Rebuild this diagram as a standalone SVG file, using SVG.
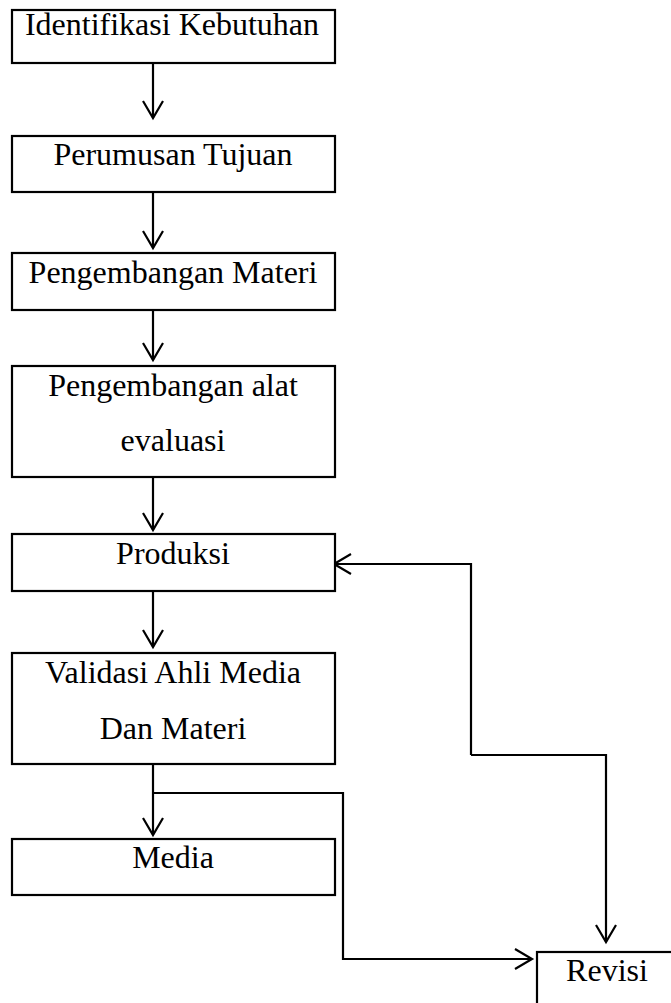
<svg xmlns="http://www.w3.org/2000/svg" width="671" height="1003" viewBox="0 0 671 1003">
<style>
.box{fill:#fff;stroke:#000;stroke-width:2.2}
.t{font-family:"Liberation Serif","Times New Roman",serif;font-size:32px;fill:#000;text-anchor:middle}
.c{fill:none;stroke:#000;stroke-width:2.2}
</style>
<defs>
<marker id="ah" markerUnits="userSpaceOnUse" markerWidth="24" markerHeight="26" viewBox="-20 -13 24 26" refX="0" refY="0" orient="auto">
<path d="M -17 -10 L 0 0 L -17 10" fill="none" stroke="#000" stroke-width="2.2"/>
</marker>
</defs>
<rect width="671" height="1003" fill="#fff"/>
<g id="connectors">
<line class="c" x1="153" y1="64" x2="153" y2="118" marker-end="url(#ah)"/>
<line class="c" x1="153" y1="193" x2="153" y2="248" marker-end="url(#ah)"/>
<line class="c" x1="153" y1="311" x2="153" y2="360" marker-end="url(#ah)"/>
<line class="c" x1="153" y1="478" x2="153" y2="530" marker-end="url(#ah)"/>
<line class="c" x1="153" y1="592" x2="153" y2="647" marker-end="url(#ah)"/>
<line class="c" x1="153" y1="765" x2="153" y2="835" marker-end="url(#ah)"/>
<polyline class="c" points="153,793 343,793 343,959 532,959" marker-end="url(#ah)"/>
<polyline class="c" points="471,755 471,564 334,564" marker-end="url(#ah)"/>
<polyline class="c" points="471,755 606,755 606,942" marker-end="url(#ah)"/>
</g>
<g id="n1"><rect class="box" x="12" y="10" width="323" height="53"/><text class="t" x="172" y="35">Identifikasi Kebutuhan</text></g>
<g id="n2"><rect class="box" x="12" y="136" width="323" height="56"/><text class="t" x="173" y="165">Perumusan Tujuan</text></g>
<g id="n3"><rect class="box" x="12" y="253" width="323" height="57"/><text class="t" x="173" y="283">Pengembangan Materi</text></g>
<g id="n4"><rect class="box" x="12" y="366" width="323" height="111"/><text class="t" x="173" y="396">Pengembangan alat</text><text class="t" x="173" y="451">evaluasi</text></g>
<g id="n5"><rect class="box" x="12" y="534" width="323" height="57"/><text class="t" x="173" y="564">Produksi</text></g>
<g id="n6"><rect class="box" x="12" y="653" width="323" height="111"/><text class="t" x="173" y="683">Validasi Ahli Media</text><text class="t" x="173" y="739">Dan Materi</text></g>
<g id="n7"><rect class="box" x="12" y="839" width="323" height="56"/><text class="t" x="173" y="868">Media</text></g>
<g id="n8"><rect class="box" x="537" y="952" width="150" height="70"/><text class="t" x="607" y="981">Revisi</text></g>
</svg>
